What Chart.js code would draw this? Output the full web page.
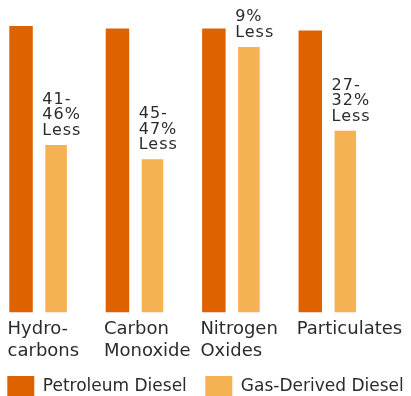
<!DOCTYPE html>
<html><head><meta charset="utf-8">
<script src="https://cdn.jsdelivr.net/npm/chart.js@4"></script>
<style>html,body{margin:0;padding:0;background:#fff;}canvas{display:block;}</style>
</head><body>
<canvas id="c" width="411" height="396" style="width:411px;height:396px"></canvas>
<script>
const categories = [["Hydro-","carbons"],["Carbon","Monoxide"],["Nitrogen","Oxides"],["Particulates"]];
const seriesNames = ["Petroleum Diesel","Gas-Derived Diesel"];
const petroleumValues = [100, 99.1, 99.1, 98.4];
const gasDerivedValues = [58.5, 53.5, 92.7, 63.4];
const reductionLabels = [["41-","46%","Less"],["45-","47%","Less"],["9%","Less"],["27-","32%","Less"]];

const FONT = "'DejaVu Sans', sans-serif";
const TEXT = '#2b2b2b';
const SIDE = -15;
const toPoints = vals => vals.map((v, i) => ({x: i, y: v}));

const annotationPlugin = {
  id: 'reductionLabels',
  afterDatasetsDraw(chart) {
    const meta = chart.getDatasetMeta(1);
    const ctx = chart.ctx;
    ctx.save();
    ctx.font = '16px ' + FONT;
    ctx.fillStyle = TEXT;
    ctx.textAlign = 'left';
    ctx.textBaseline = 'alphabetic';
    try { ctx.letterSpacing = '1px'; } catch (e) {}
    meta.data.forEach((bar, i) => {
      const p = bar.getProps(['x', 'y', 'width'], true);
      const lines = reductionLabels[i] || [];
      const left = p.x - p.width / 2 - 3;
      const base = p.y - 10;
      lines.forEach((t, j) => {
        ctx.fillText(t, left, base - (lines.length - 1 - j) * 15.5);
      });
    });
    ctx.restore();
  }
};

const sidePad = s => { s.paddingLeft = 0; s.paddingRight = 0; };

new Chart(document.getElementById('c'), {
  type: 'bar',
  data: {
    datasets: [
      {label: seriesNames[0], data: toPoints(petroleumValues), backgroundColor: '#DF6200', borderWidth: 0,
       categoryPercentage: 0.727, barPercentage: 0.67},
      {label: seriesNames[1], data: toPoints(gasDerivedValues), backgroundColor: '#F5B253', borderWidth: 0,
       categoryPercentage: 0.727, barPercentage: 0.615}
    ]
  },
  options: {
    responsive: false,
    animation: false,
    devicePixelRatio: 1,
    layout: {padding: {left: SIDE, right: SIDE, top: 26, bottom: -12}},
    scales: {
      x: {
        type: 'linear', min: -0.4, max: 3.863, offset: false,
        grid: {display: false, drawTicks: false},
        border: {display: false},
        ticks: {
          stepSize: 1, includeBounds: false, autoSkip: false, maxRotation: 0, minRotation: 0,
          align: 'start', labelOffset: -31, padding: 6, color: TEXT,
          font: {family: FONT, size: 18, lineHeight: 22 / 18},
          callback: v => (Number.isInteger(v) && v >= 0 && v < categories.length) ? categories[v] : null
        },
        afterFit: s => { s.height = 45; sidePad(s); }
      },
      y: {display: false, min: 0, max: 100, afterFit: s => { sidePad(s); }}
    },
    plugins: {
      legend: {
        position: 'bottom',
        labels: {boxWidth: 27, boxHeight: 22, padding: 18.5, color: TEXT, font: {family: FONT, size: 17}}
      },
      tooltip: {enabled: false}
    }
  },
  plugins: [annotationPlugin]
});
</script>
</body></html>
